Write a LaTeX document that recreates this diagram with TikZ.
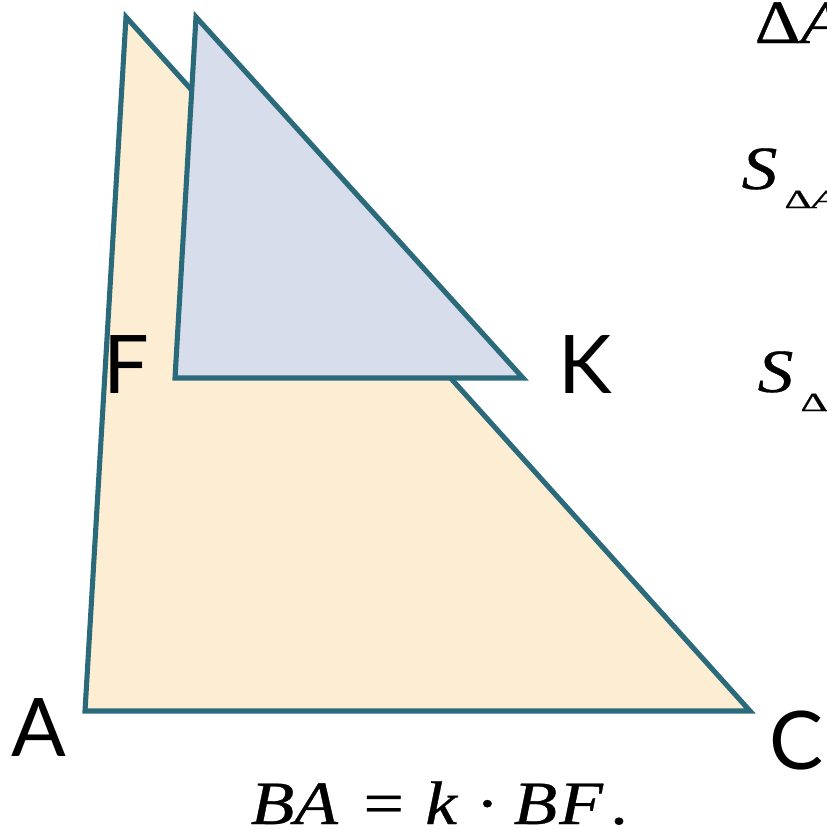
\documentclass[tikz,border=0pt]{standalone}
\usepackage{fontspec}
\newfontfamily\labelfont{Lato}
\newfontfamily\serif{Liberation Serif}[FakeBold=0.5]
\definecolor{edgeteal}{RGB}{42,106,122}
\definecolor{cream}{RGB}{253,238,211}
\definecolor{paleblue}{RGB}{215,221,234}
\tikzset{
    tri/.style={draw=edgeteal, line width=1.45pt, line join=miter},
    vlabel/.style={font=\labelfont\fontsize{23}{23}\selectfont, inner sep=0pt, anchor=base west},
    formula/.style={font=\serif\fontsize{17.5}{18}\selectfont, inner sep=0pt, text depth=0pt, anchor=base west},
}
\newcommand{\stretched}[1]{\scalebox{1.16}[1]{#1}}
\newcommand{\subdelta}[1]{\hspace{2pt}\raisebox{-0.19cm}{\fontsize{7.5}{8}\selectfont\scalebox{1.6}[1]{Δ\textit{#1}}}}

\begin{document}
\begin{tikzpicture}[x=0.01cm,y=-0.01cm]
        \clip (0,0) rectangle (827,833);
        % vertices
            \coordinate (B) at (126,17);
            \coordinate (A) at (85,711);
            \coordinate (C) at (750,711);
            \coordinate (T) at (196,17);
            \coordinate (F) at (175,378);
            \coordinate (K) at (523,378);
        %triangles
            \filldraw[tri, fill=cream] (B) -- (A) -- (C) -- cycle;
            \filldraw[tri, fill=paleblue] (T) -- (F) -- (K) -- cycle;
        %nodes
            \node[vlabel] (labA) at (11,756) {A};
            \node[vlabel] (labC) at (769,769) {C};
            \node[vlabel] (labF) at (103,393) {F};
            \node[vlabel] (labK) at (558,393) {K};
            \node[formula] (eqBA) at (250,824) {\stretched{\itshape BA\hspace{0.36em}\upshape=\hspace{0.3em}\itshape k\hspace{0.26em}\upshape·\hspace{0.2em}\itshape B\hspace{0.03em}F\hspace{0.1em}\upshape.}};
        % formulas on the right
            \node[formula] (simTop) at (754,43) {\stretched{Δ\itshape A}};
            \node[formula] (areaOne) at (741,189) {\stretched{\itshape S}\subdelta{A}};
            \node[formula] (areaTwo) at (757,392) {\stretched{\itshape S}\subdelta{A}};
\end{tikzpicture}
\end{document}
